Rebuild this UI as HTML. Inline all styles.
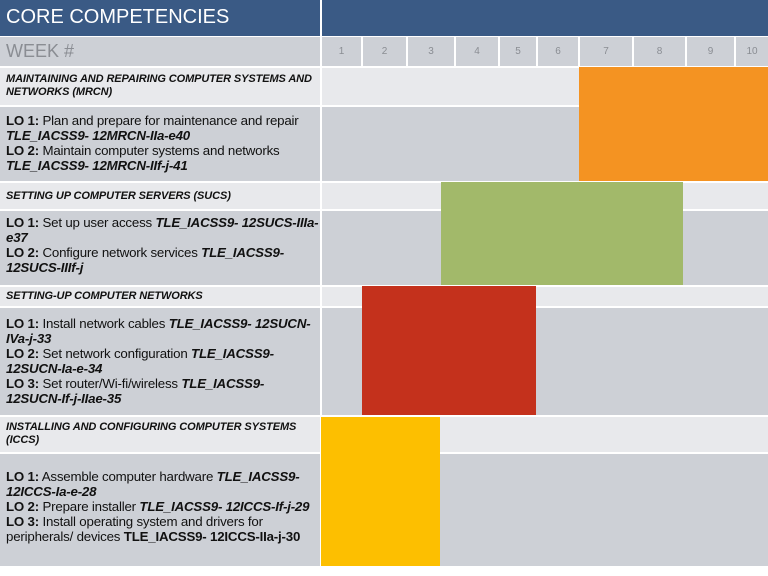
<!DOCTYPE html>
<html><head><meta charset="utf-8"><style>
body{margin:0;width:768px;height:576px;background:#fff;position:relative;overflow:hidden;font-family:"Liberation Sans",sans-serif;}
div{position:absolute;box-sizing:border-box;}
.l{background:#e8e9ec}
.d{background:#cdd0d6}
.h{font-weight:bold;font-style:italic;font-size:11px;color:#111;line-height:13px;padding-left:6px;letter-spacing:-0.1px}
.t{font-size:13.3px;color:#111;line-height:15px;padding-left:6px;letter-spacing:-0.2px;white-space:nowrap;overflow:hidden}
.wk{top:37px;height:29px;background:#cdd0d6;color:#8a8d93;font-size:10px;text-align:center;line-height:29px}
</style></head><body>
<div style="left:0;top:0;width:320px;height:36px;background:#3a5a85;color:#fff;font-size:20px;line-height:34px;padding-left:6px">CORE COMPETENCIES</div>
<div style="left:322px;top:0;width:446px;height:36px;background:#3a5a85"></div>
<div style="left:0;top:37px;width:320px;height:29px;background:#cdd0d6;color:#8a8d93;font-size:18px;line-height:29px;padding-left:6px">WEEK #</div>
<div class="wk" style="left:322px;width:39px">1</div>
<div class="wk" style="left:363px;width:43px">2</div>
<div class="wk" style="left:408px;width:46px">3</div>
<div class="wk" style="left:456px;width:42px">4</div>
<div class="wk" style="left:500px;width:36px">5</div>
<div class="wk" style="left:538px;width:40px">6</div>
<div class="wk" style="left:580px;width:52px">7</div>
<div class="wk" style="left:634px;width:51px">8</div>
<div class="wk" style="left:687px;width:47px">9</div>
<div class="wk" style="left:736px;width:32px">10</div>

<div class="l h" style="left:0;top:68px;width:320px;height:37px;padding-top:5px">MAINTAINING AND REPAIRING COMPUTER SYSTEMS AND<br>NETWORKS (MRCN)</div>
<div class="l" style="left:322px;top:68px;width:446px;height:37px"></div>
<div class="d t" style="left:0;top:107px;width:320px;height:74px;padding-top:6px"><b>LO 1:</b> Plan and prepare for maintenance and repair<br><b><i>TLE_IACSS9- 12MRCN-IIa-e40</i></b><br><b>LO 2:</b> Maintain computer systems and networks<br><b><i>TLE_IACSS9- 12MRCN-IIf-j-41</i></b></div>
<div class="d" style="left:322px;top:107px;width:446px;height:74px"></div>

<div class="l h" style="left:0;top:183px;width:320px;height:26px;line-height:26px">SETTING UP COMPUTER SERVERS (SUCS)</div>
<div class="l" style="left:322px;top:183px;width:446px;height:26px"></div>
<div class="d t" style="left:0;top:211px;width:320px;height:74px;padding-top:4px"><b>LO 1:</b> Set up user access <b><i>TLE_IACSS9- 12SUCS-IIIa-<br>e37</i></b><br><b>LO 2:</b> Configure network services <b><i>TLE_IACSS9-<br>12SUCS-IIIf-j</i></b></div>
<div class="d" style="left:322px;top:211px;width:446px;height:74px"></div>

<div class="l h" style="left:0;top:287px;width:320px;height:19px;line-height:18px">SETTING-UP COMPUTER NETWORKS</div>
<div class="l" style="left:322px;top:287px;width:446px;height:19px"></div>
<div class="d t" style="left:0;top:308px;width:320px;height:107px;padding-top:8px"><b>LO 1:</b> Install network cables <b><i>TLE_IACSS9- 12SUCN-<br>IVa-j-33</i></b><br><b>LO 2:</b> Set network configuration <b><i>TLE_IACSS9-<br>12SUCN-Ia-e-34</i></b><br><b>LO 3:</b> Set router/Wi-fi/wireless <b><i>TLE_IACSS9-<br>12SUCN-If-j-IIae-35</i></b></div>
<div class="d" style="left:322px;top:308px;width:446px;height:107px"></div>

<div class="l h" style="left:0;top:417px;width:320px;height:35px;padding-top:4px">INSTALLING AND CONFIGURING COMPUTER SYSTEMS<br>(ICCS)</div>
<div class="l" style="left:322px;top:417px;width:446px;height:35px"></div>
<div class="d t" style="left:0;top:454px;width:320px;height:112px;padding-top:15px"><b>LO 1:</b> Assemble computer hardware <b><i>TLE_IACSS9-<br>12ICCS-Ia-e-28</i></b><br><b>LO 2:</b> Prepare installer <b><i>TLE_IACSS9- 12ICCS-If-j-29</i></b><br><b>LO 3:</b> Install operating system and drivers for<br>peripherals/ devices <b>TLE_IACSS9- 12ICCS-IIa-j-30</b></div>
<div class="d" style="left:322px;top:454px;width:446px;height:112px"></div>

<div style="left:579px;top:67px;width:189px;height:114px;background:#f49322"></div>
<div style="left:441px;top:182px;width:242px;height:103px;background:#a2b96a"></div>
<div style="left:362px;top:286px;width:174px;height:129px;background:#c4311c"></div>
<div style="left:321px;top:417px;width:119px;height:149px;background:#fdbf00"></div>
</body></html>
